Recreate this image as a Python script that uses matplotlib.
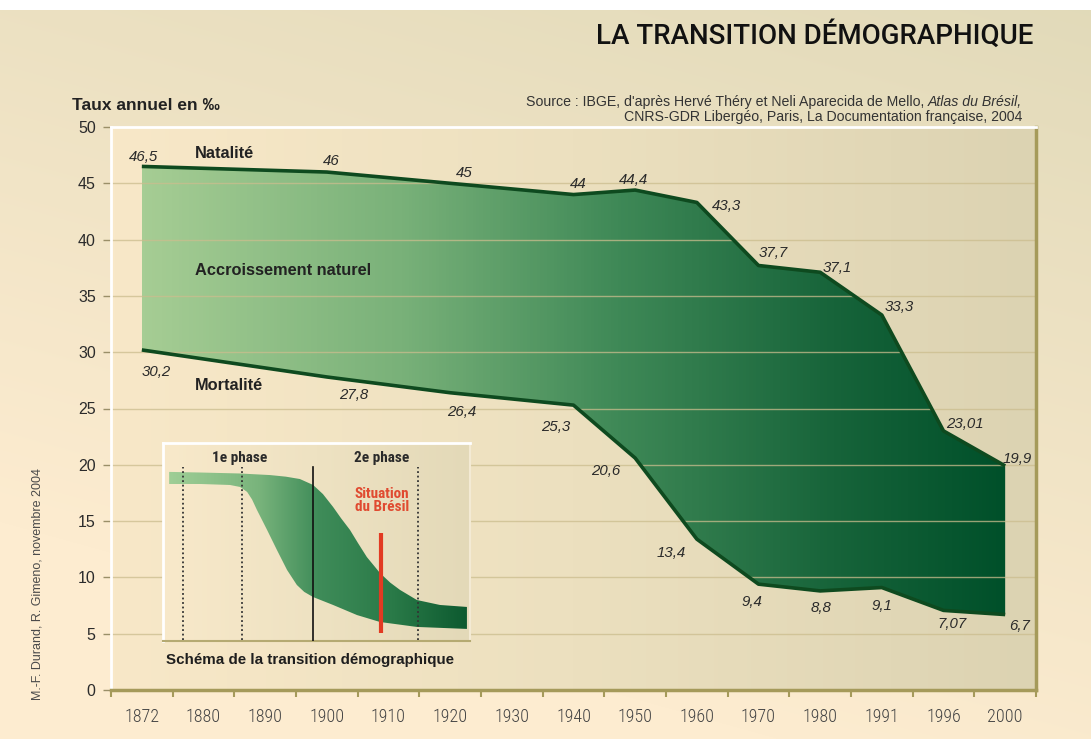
import numpy as np
import matplotlib
matplotlib.use("Agg")
import matplotlib.pyplot as plt
from matplotlib.colors import LinearSegmentedColormap
from matplotlib.patches import Polygon
from matplotlib import font_manager

# ---------------- data ----------------
years = ['1872', '1880', '1890', '1900', '1910', '1920', '1930', '1940',
         '1950', '1960', '1970', '1980', '1991', '1996', '2000']
data_years = ['1872', '1900', '1920', '1940', '1950', '1960', '1970',
              '1980', '1991', '1996', '2000']
natalite = [46.5, 46, 45, 44, 44.4, 43.3, 37.7, 37.1, 33.3, 23.01, 19.9]
mortalite = [30.2, 27.8, 26.4, 25.3, 20.6, 13.4, 9.4, 8.8, 9.1, 7.07, 6.7]
y_ticks = [0, 5, 10, 15, 20, 25, 30, 35, 40, 45, 50]

# schematic inset curves (inset units 0-100)
schema_nat_x = [2.0, 12.1, 25.1, 34.9, 40.0, 44.6, 48.9, 52.1, 55.4, 58.0, 60.9, 63.5, 66.4, 70.7, 74.0, 77.2, 82.7, 90.2, 99.0]
schema_nat_y = [85.4, 85.1, 84.6, 83.8, 83.0, 81.8, 78.8, 74.2, 67.7, 62.0, 56.1, 49.5, 42.4, 34.3, 29.5, 25.8, 20.7, 18.2, 17.2]
schema_mor_x = [2.0, 12.1, 21.8, 25.1, 27.4, 29.0, 30.6, 33.9, 37.1, 40.4, 43.6, 46.0, 48.9, 55.4, 63.2, 70.7, 82.7, 99.0]
schema_mor_y = [79.3, 79.3, 78.8, 77.8, 75.3, 71.5, 66.2, 56.1, 46.0, 35.9, 28.3, 24.8, 22.2, 18.2, 13.1, 9.6, 7.1, 6.1]

# label offsets in pixels (dx, dy) -- layout only
nat_off = [(2, 9), (4, 11), (14, 10), (5, 11), (-2, 10), (30, -4), (15, 12),
           (17, 4), (17, 8), (21, 7), (12, 7)]
mor_off = [(14, -22), (27, -18), (12, -19), (-18, -22), (-29, -13), (-26, -14),
           (-7, -18), (1, -17), (0, -18), (9, -14), (14, -11)]

W, H = 1091, 739
fig = plt.figure(figsize=(W / 100, H / 100), dpi=100)

def fx(px):
    return px / W

def fy(py):
    return 1 - py / H

_names = {f.name for f in font_manager.fontManager.ttflist}
_cond = [n for n in ['Liberation Sans Narrow', 'Roboto Condensed', 'Open Sans Condensed',
                     'Roboto'] if n in _names]
NARROW = _cond + ['DejaVu Sans']
TITLE = [n for n in ['Roboto'] if n in _names] + ['DejaVu Sans']
SANS = ['Liberation Sans', 'DejaVu Sans']

# ---------------- figure background ----------------
bg = fig.add_axes([0, 0, 1, 1], zorder=-10)
yy, xx = np.mgrid[0:H, 0:W]
t = np.clip(0.85 * (1 - yy / H) + 0.35 * (xx / W) - 0.25, 0, 1)[..., None]
grey = np.array([224, 217, 184]) / 255
cream = np.array([253, 236, 208]) / 255
img = cream * (1 - t) + grey * t
img[:10, :, :] = 1.0
bg.imshow(img, extent=(0, 1, 0, 1), aspect='auto', interpolation='bilinear')
bg.set_axis_off()

# ---------------- main axes ----------------
ax = fig.add_axes([fx(111), fy(690), fx(1036) - fx(111), fy(127) - fy(690)])
ax.set_xlim(-0.5, len(years) - 0.5)
ax.set_ylim(0, 50)
ax.patch.set_visible(False)

panel_cmap = LinearSegmentedColormap.from_list('panel', ['#f8e8c8', '#ece0bf', '#dcd3b2'])
grad = np.linspace(0, 1, 256)[None, :]
ax.imshow(grad, extent=(-0.5, len(years) - 0.5, 0, 50), aspect='auto',
          cmap=panel_cmap, zorder=0)

xi = [years.index(y) for y in data_years]
poly_pts = list(zip(xi, natalite)) + list(zip(xi[::-1], mortalite[::-1]))
poly = Polygon(poly_pts, closed=True, facecolor='none', edgecolor='none',
               transform=ax.transData)
ax.add_patch(poly)
green_cmap = LinearSegmentedColormap.from_list(
    'green', [(0, '#a6cd94'), (0.3, '#79b179'), (0.55, '#3f8957'),
              (0.8, '#17643a'), (1.0, '#00502a')])
gim = ax.imshow(grad, extent=(xi[0], xi[-1], 0, 50), aspect='auto',
                cmap=green_cmap, zorder=1)
gim.set_clip_path(poly)

for v in y_ticks[1:-1]:
    ax.axhline(v, color='#cbbd8e', lw=1.0, alpha=0.75, zorder=2)

line_kw = dict(color='#0e4a1f', lw=2.6, zorder=4, solid_joinstyle='round',
               solid_capstyle='butt')
ax.plot(xi, natalite, **line_kw)
ax.plot(xi, mortalite, **line_kw)

def fmt(v):
    return f"{v:g}".replace('.', ',')

for x, v, (dx, dy) in zip(xi, natalite, nat_off):
    ax.annotate(fmt(v), (x, v), xytext=(dx, dy), textcoords='offset pixels',
                ha='center', va='center', fontsize=10.8, style='italic',
                color='#2a2a2a', family=SANS, zorder=6)
for x, v, (dx, dy) in zip(xi, mortalite, mor_off):
    ax.annotate(fmt(v), (x, v), xytext=(dx, dy), textcoords='offset pixels',
                ha='center', va='center', fontsize=10.8, style='italic',
                color='#2a2a2a', family=SANS, zorder=6)

# spines
for s in ['top', 'left']:
    ax.spines[s].set_color('white')
    ax.spines[s].set_linewidth(2)
for s in ['right', 'bottom']:
    ax.spines[s].set_color('#a59a5a')
    ax.spines[s].set_linewidth(2.5)

ax.set_yticks(y_ticks)
ax.set_yticklabels([str(v) for v in y_ticks], fontsize=11.5, color='#2b2b2b', family=SANS)
ax.tick_params(axis='y', length=6, width=1, color='#9a8f68', pad=5)

ax.set_xticks(np.arange(-0.5, len(years), 1.0))
ax.set_xticklabels([])
ax.set_xticks(np.arange(len(years)), minor=True)
ax.set_xticklabels(years, minor=True, fontsize=13, color='#444444', family=NARROW,
                   fontstretch='condensed', fontweight='light')
ax.tick_params(axis='x', which='major', length=5, width=1.5, color='#a59a5a')
ax.tick_params(axis='x', which='minor', length=0, pad=13)

# series labels
lab_kw = dict(fontsize=11.8, fontweight='bold', color='#222222', family=SANS, va='center')
fig.text(fx(195), fy(153), 'Natalité', **lab_kw)
fig.text(fx(195), fy(270), 'Accroissement naturel', **lab_kw)
fig.text(fx(195), fy(385), 'Mortalité', **lab_kw)

# titles & notes
fig.text(fx(1033), fy(35), 'LA TRANSITION DÉMOGRAPHIQUE', ha='right', va='center',
         fontsize=20, color='#111111', family=TITLE, fontweight='medium')
fig.text(fx(72), fy(105), 'Taux annuel en ‰', ha='left', va='center',
         fontsize=12.5, fontweight='bold', color='#222222', family=SANS)
it = fig.text(fx(1022), fy(109), 'Atlas du Brésil,', ha='right', va='bottom',
              fontsize=10.2, style='italic', color='#333333', family=SANS)
ax.annotate("Source : IBGE, d'après Hervé Théry et Neli Aparecida de Mello,",
            xy=(0, 0), xycoords=it, xytext=(-3, 0), textcoords='offset pixels',
            ha='right', va='bottom', fontsize=10.2, color='#333333', family=SANS,
            annotation_clip=False)
fig.text(fx(1022), fy(117.5), 'CNRS-GDR Libergéo, Paris, La Documentation française, 2004',
         ha='right', va='center', fontsize=10.2, color='#333333', family=SANS)
fig.text(fx(38), fy(584), 'M.-F. Durand, R. Gimeno, novembre 2004', rotation=90,
         ha='center', va='center', fontsize=9, color='#4a4a4a', family=SANS)

# ---------------- inset ----------------
ai = fig.add_axes([fx(163), fy(641), fx(470) - fx(163), fy(443) - fy(641)], zorder=5)
ai.set_xlim(0, 100)
ai.set_ylim(0, 100)
ai.patch.set_visible(False)
inset_bg = LinearSegmentedColormap.from_list('ibg', ['#f8e9ca', '#eee2c2', '#e3d9b8'])
ai.imshow(grad, extent=(0, 100, 0, 100), aspect='auto', cmap=inset_bg, zorder=0)

band_pts = list(zip(schema_nat_x, schema_nat_y)) + list(zip(schema_mor_x[::-1], schema_mor_y[::-1]))
band = Polygon(band_pts, closed=True, facecolor='none', edgecolor='none',
               transform=ai.transData)
ai.add_patch(band)
band_cmap = LinearSegmentedColormap.from_list(
    'band', [(0, '#9fce96'), (0.3, '#79b47c'), (0.5, '#3f8c59'),
             (0.75, '#2a7a48'), (1.0, '#0d5a30')])
bim = ai.imshow(grad, extent=(schema_nat_x[0], schema_nat_x[-1], 0, 100),
                aspect='auto', cmap=band_cmap, zorder=1)
bim.set_clip_path(band)

for xv in [6.5, 25.7, 83.1]:
    ai.plot([xv, xv], [0.5, 87.9], color='#333333', lw=1.3,
            linestyle=(0, (1, 1.5)), zorder=3)
ai.plot([48.9, 48.9], [0, 87.9], color='#111111', lw=1.2, zorder=3)
ai.plot([70.9, 70.9], [4, 54.5], color='#e23a22', lw=3, zorder=4, solid_capstyle='butt')

ph_kw = dict(ha='center', va='center', fontsize=11, color='#2a2a2a', family=NARROW,
             fontweight='bold')
ai.text(25.1, 92.4, '1e phase', **ph_kw)
ai.text(71.3, 92.4, '2e phase', **ph_kw)
ai.text(71.3, 71.0, 'Situation\ndu Brésil', ha='center', va='center', fontsize=11,
        color='#e04a30', family=NARROW, fontweight='bold', linespacing=0.95)

ai.set_xticks([])
ai.set_yticks([])
for s in ['top', 'left']:
    ai.spines[s].set_color('white')
    ai.spines[s].set_linewidth(2)
ai.spines['right'].set_color('#f3ead4')
ai.spines['right'].set_linewidth(1.5)
ai.spines['bottom'].set_color('#b5aa72')
ai.spines['bottom'].set_linewidth(1.5)

fig.text(fx(166), fy(660), 'Schéma de la transition démographique', ha='left',
         va='center', fontsize=10.9, fontweight='bold', color='#1e1e1e', family=SANS)

fig.savefig('out.png', dpi=100)
